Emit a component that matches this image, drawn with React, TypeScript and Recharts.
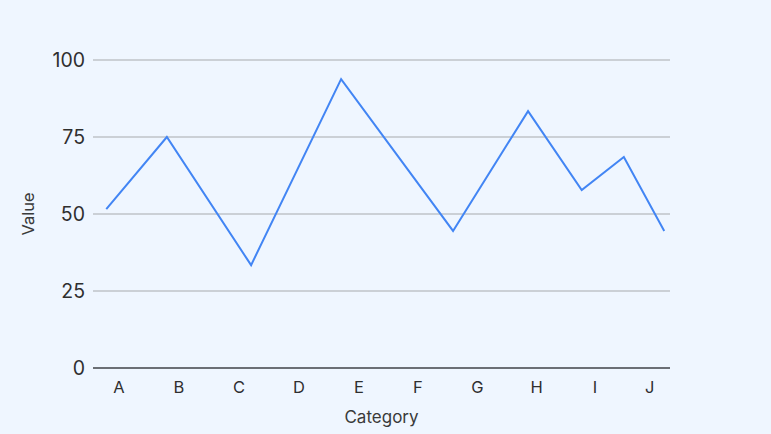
import { LineChart, Line, XAxis, YAxis, CartesianGrid } from "recharts";

// x positions are on a 0-100 scale along the axis
const pointX = [2.3, 12.8, 27.4, 43.0, 62.4, 75.4, 84.7, 92.0, 99.0];
const pointValues = [51.6, 75.0, 33.4, 93.8, 44.5, 83.4, 57.8, 68.5, 44.5];

const categories = ["A", "B", "C", "D", "E", "F", "G", "H", "I", "J"];
const categoryX = [4.5, 14.9, 25.3, 35.7, 46.1, 56.3, 66.6, 76.9, 87.0, 96.5];

const valueTicks = [0, 25, 50, 75, 100];

const data = pointX.map((x, i) => ({ x, value: pointValues[i] }));

export default function App() {
  return (
    <div
      style={{
        position: "absolute",
        left: 0,
        top: 0,
        width: 771,
        height: 434,
        background: "#eff6ff",
        fontFamily: "Inter, sans-serif",
      }}
    >
      <LineChart
        width={771}
        height={434}
        data={data}
        margin={{ top: 60, right: 101, bottom: 0, left: 0 }}
      >
        <CartesianGrid vertical={false} stroke="#bfc3c8" strokeWidth={1.5} />
        <XAxis
          dataKey="x"
          type="number"
          domain={[0, 100]}
          ticks={categoryX}
          tickFormatter={(v: number) => categories[categoryX.indexOf(v)] ?? ""}
          interval={0}
          height={66}
          tickLine={false}
          tickMargin={7}
          stroke="#6b6f75"
          strokeWidth={2}
          tick={{ fill: "#2f2f2f", fontSize: 16.5 }}
          label={{
            value: "Category",
            position: "insideBottom",
            offset: 11,
            fill: "#3a3a3a",
            fontSize: 17,
          }}
        />
        <YAxis
          domain={[0, 100]}
          ticks={valueTicks}
          width={93}
          axisLine={false}
          tickLine={false}
          tick={{ fill: "#2f2f2f", fontSize: 19.5 }}
          label={{
            value: "Value",
            angle: -90,
            position: "insideLeft",
            offset: 28,
            fill: "#3a3a3a",
            fontSize: 16.5,
            style: { textAnchor: "middle" },
          }}
        />
        <Line
          type="linear"
          dataKey="value"
          stroke="#4285f4"
          strokeWidth={2}
          dot={false}
          isAnimationActive={false}
        />
      </LineChart>
    </div>
  );
}
